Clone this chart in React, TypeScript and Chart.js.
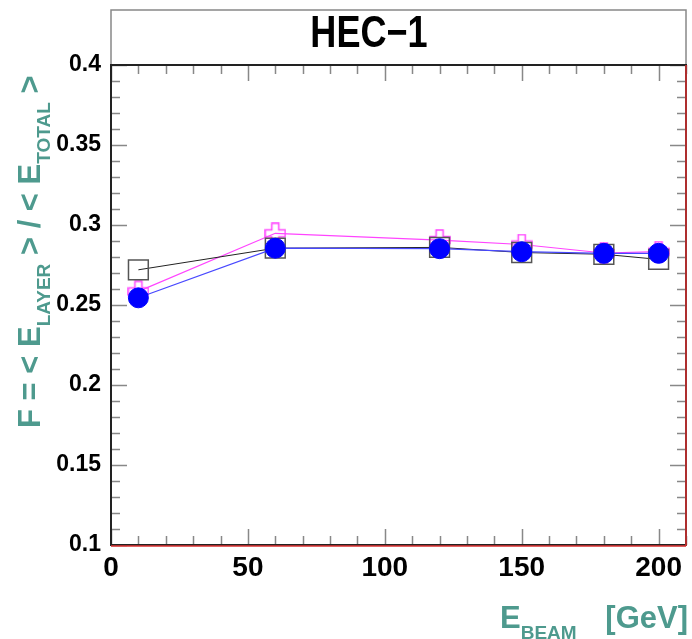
import React, { useEffect, useRef } from 'react';
import { Chart, registerables } from 'chart.js';
Chart.register(...registerables);

// ---- data ----
const energies = [10, 60, 120, 150, 180, 200];
const fBlackSquares = [0.272, 0.2855, 0.286, 0.2828, 0.2817, 0.2785];
const fMagentaCrosses = [0.2585, 0.2948, 0.2906, 0.2878, 0.2825, 0.2833];
const fBlueCircles = [0.2545, 0.2855, 0.2852, 0.2833, 0.2823, 0.2823];

const xMin = 0;
const xMax = 210;
const xMajorStep = 50;
const xMinorStep = 10;
const yMin = 0.1;
const yMax = 0.4;
const yMajorStep = 0.05;
const yMinorStep = 0.01;

const titleText = 'HEC\u22121';
const teal = '#4e9a8e';

function makeCrossImage(color: string) {
  const c = document.createElement('canvas');
  const s = 22;
  c.width = s;
  c.height = s;
  const g = c.getContext('2d')!;
  const a = 3.5; // half arm width
  const h = 10; // half size
  const m = s / 2;
  g.strokeStyle = color;
  g.lineWidth = 1.5;
  g.beginPath();
  g.moveTo(m - a, m - h);
  g.lineTo(m + a, m - h);
  g.lineTo(m + a, m - a);
  g.lineTo(m + h, m - a);
  g.lineTo(m + h, m + a);
  g.lineTo(m + a, m + a);
  g.lineTo(m + a, m + h);
  g.lineTo(m - a, m + h);
  g.lineTo(m - a, m + a);
  g.lineTo(m - h, m + a);
  g.lineTo(m - h, m - a);
  g.lineTo(m - a, m - a);
  g.closePath();
  g.stroke();
  return c;
}

const framePlugin = {
  id: 'rootFrame',
  beforeDatasetsDraw(chart: any) {
    const { ctx, chartArea: a, scales } = chart;
    const xs = scales.x;
    const ys = scales.y;
    ctx.save();
    // title box
    ctx.fillStyle = '#fff';
    ctx.fillRect(a.left, 10, a.right - a.left, a.top - 10);
    ctx.strokeStyle = '#888';
    ctx.lineWidth = 1.5;
    ctx.strokeRect(a.left, 10, a.right - a.left, a.top - 10);

    // tick marks (inside, all four sides)
    ctx.strokeStyle = '#888';
    ctx.lineWidth = 1.5;
    const nx = Math.round((xMax - xMin) / xMinorStep);
    for (let i = 0; i <= nx; i++) {
      const v = xMin + i * xMinorStep;
      const px = Math.round(xs.getPixelForValue(v)) + 0.5;
      const major = Math.abs(v / xMajorStep - Math.round(v / xMajorStep)) < 1e-6;
      const len = major ? 16 : 9;
      ctx.beginPath();
      ctx.moveTo(px, a.bottom);
      ctx.lineTo(px, a.bottom - len);
      ctx.moveTo(px, a.top);
      ctx.lineTo(px, a.top + len);
      ctx.stroke();
    }
    const ny = Math.round((yMax - yMin) / yMinorStep);
    for (let i = 0; i <= ny; i++) {
      const v = yMin + i * yMinorStep;
      const py = Math.round(ys.getPixelForValue(v)) + 0.5;
      const major = Math.abs(v / yMajorStep - Math.round(v / yMajorStep)) < 1e-6;
      const len = major ? 16 : 9;
      ctx.beginPath();
      ctx.moveTo(a.left, py);
      ctx.lineTo(a.left + len, py);
      ctx.moveTo(a.right, py);
      ctx.lineTo(a.right - len, py);
      ctx.stroke();
    }

    // frame
    ctx.strokeStyle = '#222';
    ctx.lineWidth = 2;
    ctx.strokeRect(a.left, a.top, a.right - a.left, a.bottom - a.top);
    ctx.strokeStyle = '#d33';
    ctx.lineWidth = 1.5;
    ctx.beginPath();
    ctx.moveTo(a.right, a.top);
    ctx.lineTo(a.right, a.bottom + 1);
    ctx.moveTo(a.left, a.bottom + 1);
    ctx.lineTo(a.right, a.bottom + 1);
    ctx.stroke();
    ctx.restore();
  },
  afterDraw(chart: any) {
    const { ctx } = chart;
    ctx.save();
    // title (slightly condensed like the reference)
    ctx.fillStyle = '#000';
    ctx.font = "bold 44px 'Liberation Sans', Arial, sans-serif";
    ctx.textAlign = 'center';
    ctx.textBaseline = 'alphabetic';
    ctx.translate(369, 47);
    ctx.scale(0.82, 1);
    ctx.fillText(titleText, 0, 0);
    ctx.setTransform(1, 0, 0, 1, 0, 0);

    // y axis title (rotated, with subscripts)
    const big = "bold 31px 'Liberation Sans', Arial, sans-serif";
    const sub = "bold 19px 'Liberation Sans', Arial, sans-serif";
    const parts: [string, boolean][] = [
      ['F = < E', false],
      ['LAYER', true],
      [' > / < E', false],
      ['TOTAL', true],
      [' >', false],
    ];
    ctx.translate(40, 428);
    ctx.rotate(-Math.PI / 2);
    ctx.fillStyle = teal;
    ctx.textAlign = 'left';
    let x = 0;
    for (const [t, s] of parts) {
      ctx.font = s ? sub : big;
      ctx.fillText(t, x, s ? 10 : 0);
      x += ctx.measureText(t).width;
    }
    ctx.setTransform(1, 0, 0, 1, 0, 0);

    // x axis title
    ctx.fillStyle = teal;
    ctx.textAlign = 'left';
    ctx.font = big;
    let xx = 500;
    ctx.fillText('E', xx, 628);
    xx += ctx.measureText('E').width;
    ctx.font = sub;
    ctx.fillText('BEAM', xx, 639);
    ctx.font = big;
    ctx.textAlign = 'right';
    ctx.fillText('[GeV]', 688, 628);
    ctx.restore();
  },
};

export default function App() {
  const ref = useRef<HTMLCanvasElement | null>(null);
  useEffect(() => {
    if (!ref.current) return;
    const cross = makeCrossImage('#ff44ff');
    const pts = (ys: number[]) => energies.map((e, i) => ({ x: e, y: ys[i] }));
    const chart = new Chart(ref.current, {
      type: 'line',
      data: {
        datasets: [
          {
            label: 'blue',
            data: pts(fBlueCircles),
            borderColor: '#4848ff',
            borderWidth: 1.2,
            pointStyle: 'circle',
            pointRadius: 10,
            pointBackgroundColor: '#0000ff',
            pointBorderColor: '#0000ff',
            pointBorderWidth: 1,
            fill: false,
            tension: 0,
          },
          {
            label: 'black',
            data: pts(fBlackSquares),
            borderColor: '#222',
            borderWidth: 1,
            pointStyle: 'rect',
            pointRadius: 14,
            pointBackgroundColor: 'rgba(0,0,0,0)',
            pointBorderColor: '#555',
            pointBorderWidth: 1.5,
            fill: false,
            tension: 0,
          },
          {
            label: 'magenta',
            data: pts(fMagentaCrosses),
            borderColor: '#ff44ff',
            borderWidth: 1.2,
            pointStyle: cross as any,
            pointRadius: 10,
            fill: false,
            tension: 0,
          },
        ],
      },
      options: {
        responsive: false,
        animation: false,
        events: [],
        layout: { autoPadding: false, padding: { top: 65, right: 6, left: 0, bottom: 0 } },
        plugins: { legend: { display: false }, tooltip: { enabled: false }, title: { display: false } },
        scales: {
          x: {
            type: 'linear',
            min: xMin,
            max: xMax,
            grid: { display: false, drawTicks: false },
            border: { display: false },
            ticks: {
              stepSize: xMajorStep,
              includeBounds: false,
              padding: 6,
              color: '#000',
              font: { family: "'Liberation Sans', Arial, sans-serif", size: 28, weight: 'bold' },
              maxRotation: 0,
              autoSkip: false,
            },
            afterFit: (s: any) => {
              s.height = 94;
              s.paddingLeft = 0;
              s.paddingRight = 0;
            },
          },
          y: {
            type: 'linear',
            min: yMin,
            max: yMax,
            grid: { display: false, drawTicks: false },
            border: { display: false },
            ticks: {
              stepSize: yMajorStep,
              padding: 10,
              color: '#000',
              font: { family: "'Liberation Sans', Arial, sans-serif", size: 23, weight: 'bold' },
              callback: (v: any) => String(Math.round(Number(v) * 100) / 100),
              autoSkip: false,
            },
            afterFit: (s: any) => {
              s.width = 111;
              s.paddingTop = 0;
              s.paddingBottom = 0;
            },
          },
        },
      },
      plugins: [framePlugin],
    } as any);
    return () => chart.destroy();
  }, []);
  return (
    <div style={{ position: 'absolute', left: 0, top: 0, width: 692, height: 639, background: '#fff' }}>
      <canvas ref={ref} width={692} height={639} style={{ display: 'block' }} />
    </div>
  );
}
